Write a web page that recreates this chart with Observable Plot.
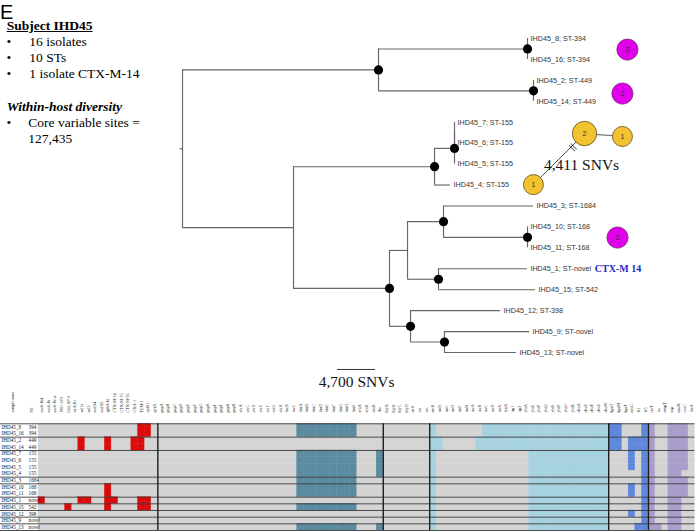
<!DOCTYPE html>
<html><head><meta charset="utf-8">
<script src="https://cdn.jsdelivr.net/npm/d3@7"></script>
<script src="https://cdn.jsdelivr.net/npm/@observablehq/plot@0.6"></script>
<style>
html,body{margin:0;padding:0;background:#fff;}
#wrap{position:relative;width:696px;height:531px;overflow:hidden;background:#fff;}
#wrap svg{display:block;}
.ov{position:absolute;font-family:"Liberation Serif","Times New Roman",serif;font-size:13.5px;line-height:1;color:#000;white-space:nowrap;}
</style></head><body>
<div id="wrap">
  <div id="tree"></div>
  <div id="heat"></div>
  <div class="ov" style="left:0px;top:4.6px;font-family:'Liberation Sans',Arial,sans-serif;font-size:20px;line-height:0.7;">E</div>
  <div class="ov" style="left:6.7px;top:19.4px;font-weight:bold;text-decoration:underline;">Subject IHD45</div>
  <div class="ov" style="left:6.5px;top:34.9px;">•</div><div class="ov" style="left:29.3px;top:34.9px;">16 isolates</div>
  <div class="ov" style="left:6.5px;top:51.2px;">•</div><div class="ov" style="left:29.3px;top:51.2px;">10 STs</div>
  <div class="ov" style="left:6.5px;top:67.2px;">•</div><div class="ov" style="left:29.3px;top:67.2px;">1 isolate CTX-M-14</div>
  <div class="ov" style="left:6.7px;top:99.9px;font-weight:bold;font-style:italic;">Within-host diversity</div>
  <div class="ov" style="left:6.5px;top:115.6px;">•</div><div class="ov" style="left:28.3px;top:115.6px;">Core variable sites =</div>
  <div class="ov" style="left:28.3px;top:131.6px;">127,435</div>
</div>
<script>
// ---------------- data ----------------
const samples = ["IHD45_8","IHD45_16","IHD45_2","IHD45_14","IHD45_7","IHD45_6","IHD45_5","IHD45_4","IHD45_3","IHD45_10","IHD45_11","IHD45_1","IHD45_15","IHD45_12","IHD45_9","IHD45_13"];
const stValues = ["394","394","449","449","155","155","155","155","1684","168","168","novel","542","398","novel","novel"];

// tree: [node, parent, branch length in SNVs]
const treeNodes = [
  ["root", null, 300],
  ["A", "root", 24240],
  ["n8_16", "A", 18430],
  ["IHD45_8", "n8_16", 0],
  ["IHD45_16", "n8_16", 0],
  ["n2_14", "A", 19170],
  ["IHD45_2", "n2_14", 0],
  ["IHD45_14", "n2_14", 0],
  ["B", "root", 13730],
  ["C", "B", 17440],
  ["D", "C", 2470],
  ["D2", "D", 0],
  ["IHD45_7", "D2", 0],
  ["IHD45_6", "D2", 0],
  ["IHD45_5", "D", 0],
  ["IHD45_4", "C", 1980],
  ["E", "B", 11870],
  ["F", "E", 2230],
  ["G", "F", 4450],
  ["IHD45_3", "G", 11130],
  ["H", "G", 10390],
  ["IHD45_10", "H", 0],
  ["IHD45_11", "H", 0],
  ["I", "F", 3830],
  ["IHD45_1", "I", 11000],
  ["IHD45_15", "I", 12000],
  ["J", "E", 2600],
  ["IHD45_12", "J", 11130],
  ["K", "J", 4200],
  ["IHD45_9", "K", 10510],
  ["IHD45_13", "K", 8900]
];
const supportedNodes = ["A","n8_16","n2_14","C","D","E","G","H","I","J","K"];

// annotations (x in SNVs, y in tree rows)
const cladeNetworks = [
  {snv: 55330, row: 0.53, n: "2"},
  {snv: 54710, row: 2.63, n: "2"},
  {snv: 54100, row: 9.51, n: "2"}
];
const st155Nodes = [
  {id: "a", snv: 50020, row: 4.54, n: "2", r: 12.2},
  {id: "b", snv: 54710, row: 4.68, n: "1", r: 10},
  {id: "c", snv: 43700, row: 6.98, n: "1", r: 10}
];
const st155Links = [
  {from: "a", to: "b", stroke: "#7a7a7a", w: 1.3},
  {from: "c", to: "a", stroke: "#222", w: 0.8}
];
const linkBreak = [{snv: 48530, row: 5.18}];
const snvLabels = [{snv: 49650, row: 6.03, text: "4,411 SNVs"}];
const scaleBar = [{snv: 19470, length: 4700, row: 15.81, text: "4,700 SNVs", textRow: 16.39}];
const esblLabels = [{snv: 51300, row: 11, text: "CTX-M 14"}];

// heatmap columns
const resistanceGenes = ["aac6-Ib4","aac6-Ib","aac6-Ib-cr","PSE-1/P1","blaLAP-2","strA-Ib","sul1a","sul2","aadA4","aadA5","aphA-Id","CTX-M-14","CTX-M-15","CTX-M-55","OXA-1","TEM-1","qnrS1","gyrA"];
const adhesinGenes = ["papA","papB","papC","papD","papE","papF","papG","papH","papI","papJ","papK","papX","sfaA","sfaC","sfaD","sfaE","sfaF","sfaG","sfaH","focA","focC","fimA","fimB","fimC","fimD","fimE","fimF","fimG","fimH","fimI","afaA","afaB","draB","iha"];
const toxinGenes = ["hlyA","hlyB","hlyC","hlyD","cnf1","sat","vat"];
const ironGenes = ["entB","iroB","iroC","iroD","iroE","iroN","iucA","iucB","iucC","iucD","iutA","fyuA","irp1","irp2","ybtA","ybtE","ybtP","ybtQ","ybtS","ybtT","ybtU","ybtX","chuA","chuS","chuT","chuU","chuW"];
const capsuleGenes = ["kpsD","kpsM","kpsT","neuC","K1","K5"];
const otherGenes = ["traT","iss","ompT","usp","malX","cvaC","ibeA"];

// presence (one string per isolate, in row order)
const resistanceHits = [
  "000000000000000110","000000000000000110",
  "000000100010001100","000000100010001100",
  "000000000000000000","000000000000000000","000000000000000000","000000000000000000",
  "000000000000000000",
  "000000000010000000","000000000010000000",
  "100000110011000110",
  "000010000010000110",
  "000000000000000000","000000000000000000","000000000000000000"
];
const adhesinHits = [
  "0000000000000000000001111111110000","0000000000000000000001111111110000",
  "0000000000000000000000000000000000","0000000000000000000000000000000000",
  "0000000000000000000001111111110001","0000000000000000000001111111110001","0000000000000000000001111111110001","0000000000000000000001111111110001",
  "0000000000000000000001111111110000",
  "0000000000000000000001111111110000","0000000000000000000001111111110000",
  "0000000000000000000000000000000000",
  "0000000000000000000001111111110000",
  "0000000000000000000000000000000000","0000000000000000000000000000000000",
  "0000000000000000000001111111110001"
];
const toxinHits = [
  "0000000","0000000","0000000","0000000","0000000","0000000","0000000","0000000",
  "0000000","0000000","0000000","0000000","0000000","0000000","0000000","0000000"
];
const ironHits = [
  "100000001111111111111111111","100000001111111111111111111",
  "110000011111111111111111111","110000011111111111111111111",
  "100000000000000111111111111","100000000000000111111111111","100000000000000111111111111","100000000000000111111111111",
  "100000000000000111111111111","100000000000000111111111111","100000000000000111111111111","100000000000000111111111111",
  "100000000000000111111111111","100000000000000111111111111","100000000000000111111111111","100000000000000111111111111"
];
const capsuleHits = [
  "110001","110001","110111","110111","000101","000101","000101","000001",
  "000001","000101","000101","000001","000001","000101","000001","000011"
];
const otherHits = [
  "1001110","1001110","1001110","1001110","1001110","1001110","1001110","1001100",
  "1001110","1001110","1001110","1001100","1001100","1001100","1001100","1101100"
];
const rowBreaks = [0, 2, 4, 8, 9, 11, 12, 13, 14, 15, 16];
const labelHeaders = [{name: "sample name", col: -3.92}, {name: "ST", col: -1.06}];

// ---------------- tree layout ----------------
const byId = new Map();
treeNodes.forEach(([id, parent, len]) => byId.set(id, {id, parent, len, children: []}));
treeNodes.forEach(([id, parent]) => { if (parent) byId.get(parent).children.push(byId.get(id)); });
const root = byId.get("root");
let leafCount = 0;
(function layout(n, px) {
  n.px = px; n.x = px + n.len;
  if (!n.children.length) n.y = leafCount++;
  else { n.children.forEach(c => layout(c, n.x)); n.y = (n.children[0].y + n.children[n.children.length - 1].y) / 2; }
})(root, 0);
const allNodes = [...byId.values()];
const hEdges = allNodes.map(n => ({x1: n.px, x2: n.x, y: n.y}));
const vEdges = allNodes.filter(n => n.children.length).map(n => ({x: n.x, y1: n.children[0].y, y2: n.children[n.children.length - 1].y}));
const leaves = allNodes.filter(n => !n.children.length).map(n => ({...n, label: `${n.id}; ST-${stValues[samples.indexOf(n.id)]}`}));
const dots = allNodes.filter(n => supportedNodes.includes(n.id));
const netById = new Map(st155Nodes.map(d => [d.id, d]));
const netLinks = st155Links.map(l => ({...l, a: netById.get(l.from), b: netById.get(l.to)}));

const sans = "Liberation Sans, Arial, Helvetica, sans-serif";
const serif = "Liberation Serif, Times New Roman, serif";

const tree = Plot.plot({
  width: 696, height: 392, margin: 0,
  x: {type: "linear", domain: [0, 4700], range: [179.6, 217.6], axis: null},
  y: {type: "linear", domain: [0, 15], range: [38, 352], axis: null},
  marks: [
    Plot.ruleY(hEdges, {y: "y", x1: "x1", x2: "x2", stroke: "#666", strokeWidth: 1.15}),
    Plot.ruleX(vEdges, {x: "x", y1: "y1", y2: "y2", stroke: "#666", strokeWidth: 1.15}),
    Plot.dot(dots, {x: "x", y: "y", r: 4.6, fill: "#000", stroke: "none"}),
    Plot.text(leaves, {x: "x", y: "y", text: "label", textAnchor: "start", dx: 3, fontSize: 7.2, fontFamily: sans, fill: "#333"}),
    Plot.text(esblLabels, {x: "snv", y: "row", text: "text", textAnchor: "start", fontSize: 10, fontWeight: "bold", fontFamily: serif, fill: "#1c2bc4"}),
    Plot.link(netLinks, {x1: d => d.a.snv, y1: d => d.a.row, x2: d => d.b.snv, y2: d => d.b.row, stroke: "stroke", strokeWidth: d => d.w}),
    Plot.text(linkBreak, {x: "snv", y: "row", text: () => "||", rotate: -45, fontSize: 9, fontFamily: sans, fill: "#333"}),
    Plot.dot(st155Nodes, {x: "snv", y: "row", r: "r", fill: "#f2c230", stroke: "#5e4d1a", strokeWidth: 0.8}),
    Plot.text(st155Nodes, {x: "snv", y: "row", text: "n", fontSize: 7, fontFamily: sans, fill: "#333"}),
    Plot.dot(cladeNetworks, {x: "snv", y: "row", r: 10.6, fill: "#e000ea", stroke: "#7a2a7a", strokeWidth: 0.8}),
    Plot.text(cladeNetworks, {x: "snv", y: "row", text: "n", fontSize: 7, fontFamily: sans, fill: "#333"}),
    Plot.text(snvLabels, {x: "snv", y: "row", text: "text", fontSize: 15.5, fontFamily: serif, fill: "#111"}),
    Plot.ruleY(scaleBar, {y: "row", x1: "snv", x2: d => d.snv + d.length, stroke: "#333", strokeWidth: 1}),
    Plot.text(scaleBar, {x: d => d.snv + d.length / 2, y: "textRow", text: "text", fontSize: 15.5, fontFamily: serif, fill: "#111"})
  ],
  r: {type: "identity"}
});
document.getElementById("tree").appendChild(tree);

// ---------------- heatmap ----------------
const groups = [
  [resistanceGenes, resistanceHits, "#dc0b0b"],
  [adhesinGenes, adhesinHits, "#5a8ba0"],
  [toxinGenes, toxinHits, "#5a8ba0"],
  [ironGenes, ironHits, "#a7d2e0"],
  [capsuleGenes, capsuleHits, "#5f88dc"],
  [otherGenes, otherHits, "#ab9dcb"]
];
const allGenes = [];
const cells = [];
const sepCols = [];
groups.forEach(([genes, hits, color], g) => {
  const off = allGenes.length;
  hits.forEach((row, r) => [...row].forEach((ch, j) => { if (ch === "1") cells.push({c: off + j, r, color}); }));
  allGenes.push(...genes);
  if (g < groups.length - 1) sepCols.push(allGenes.length);
});
const nCols = allGenes.length;

const heat = Plot.plot({
  width: 696, height: 139, margin: 0,
  x: {type: "linear", domain: [0, 99], range: [38, 694.4], axis: null},
  y: {type: "linear", domain: [0, 16], range: [31.3, 138], axis: null},
  color: {type: "identity"},
  marks: [
    Plot.rect(samples, {x1: 0, x2: nCols, y1: (d, i) => i, y2: (d, i) => i + 1, fill: "#d4d4d4", stroke: "#d4d4d4", strokeWidth: 0.3}),
    Plot.rect(cells, {x1: "c", x2: d => d.c + 1, y1: "r", y2: d => d.r + 1, fill: "color", stroke: "color", strokeWidth: 0.3}),
    Plot.ruleY(rowBreaks, {x1: -5.73, x2: nCols, stroke: "#3a3a3a", strokeWidth: 0.9}),
    Plot.ruleX(sepCols, {y1: 0, y2: samples.length, stroke: "#1e1e1e", strokeWidth: 1.4}),
    Plot.text(allGenes, {x: (d, i) => i + 0.5, y: 0, text: d => d, rotate: -90, textAnchor: "start", dy: -11.3, fontSize: 4.2, fontFamily: serif, fill: "#222"}),
    Plot.text(labelHeaders, {x: "col", y: 0, text: "name", rotate: -90, textAnchor: "start", dy: -11.3, fontSize: 4.2, fontFamily: serif, fill: "#222"}),
    Plot.text(samples, {x: -5.58, y: (d, i) => i + 0.5, text: d => d, textAnchor: "start", fontSize: 5.2, fontFamily: serif, fill: "#222"}),
    Plot.text(stValues, {x: -1.5, y: (d, i) => i + 0.5, text: d => d, textAnchor: "start", fontSize: 5.2, fontFamily: serif, fill: "#222"})
  ]
});
document.getElementById("heat").appendChild(heat);
</script>
</body></html>
